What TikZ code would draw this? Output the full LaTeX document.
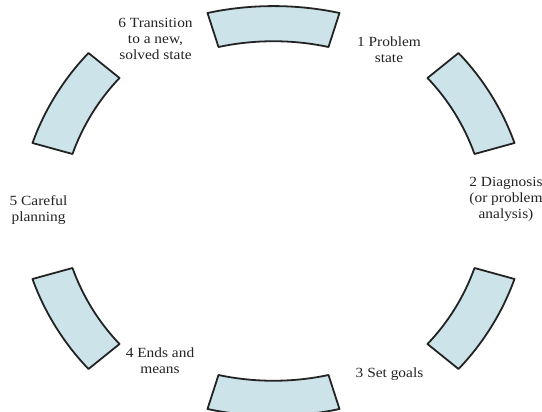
\documentclass[tikz,border=0pt]{standalone}
\usepackage{fontspec}
\setmainfont{Liberation Serif}
\definecolor{segfill}{RGB}{204,228,233}
\definecolor{segline}{RGB}{35,35,35}
\definecolor{txt}{RGB}{35,35,35}
\tikzset{
  seg/.style={fill=segfill, draw=segline, line width=1.8pt, line join=round},
  outb/.style={bend left=12, looseness=0.86},
  inb/.style={bend right=12, looseness=0.86},
  lbl/.style={text=txt, align=center, inner sep=0pt, xscale=1.1,
    font=\fontsize{14}{15.8}\selectfont}
}
\begin{document}
\begin{tikzpicture}[x=1pt,y=1pt]
\useasboundingbox (-273.5,-201) rectangle (268.5,211);
\clip (-273.5,-201) rectangle (268.5,211);
% top
\draw[seg] (-66,198) to[outb] (66,198) -- (55,164) to[inb] (-55,164) -- cycle;
% upper right
\draw[seg] (185,158) to[outb] (241,68) -- (201,57) to[inb] (154,133) -- cycle;
% lower right
\draw[seg] (241,-68) to[outb] (185,-158) -- (154,-133) to[inb] (201,-57) -- cycle;
% bottom
\draw[seg] (66,-198) to[outb] (-66,-198) -- (-55,-164) to[inb] (55,-164) -- cycle;
% lower left
\draw[seg] (-185,-158) to[outb] (-241,-68) -- (-201,-57) to[inb] (-154,-133) -- cycle;
% upper left
\draw[seg] (-241,68) to[outb] (-185,158) -- (-154,133) to[inb] (-201,57) -- cycle;
% labels
\node[lbl] (t1) at (115.5,161.5) {1 Problem\\state};
\node[lbl] (t2) at (232.5,11.5) {2 Diagnosis\\(or problem\\analysis)};
\node[lbl] (t3) at (116,-163.5) {3 Set goals};
\node[lbl] (t4) at (-113.5,-150) {4 Ends and\\means};
\node[lbl] (t5) at (-235,1) {5 Careful\\planning};
\node[lbl] (t6) at (-118,172) {6 Transition\\to a new,\\solved state};
\end{tikzpicture}
\end{document}
